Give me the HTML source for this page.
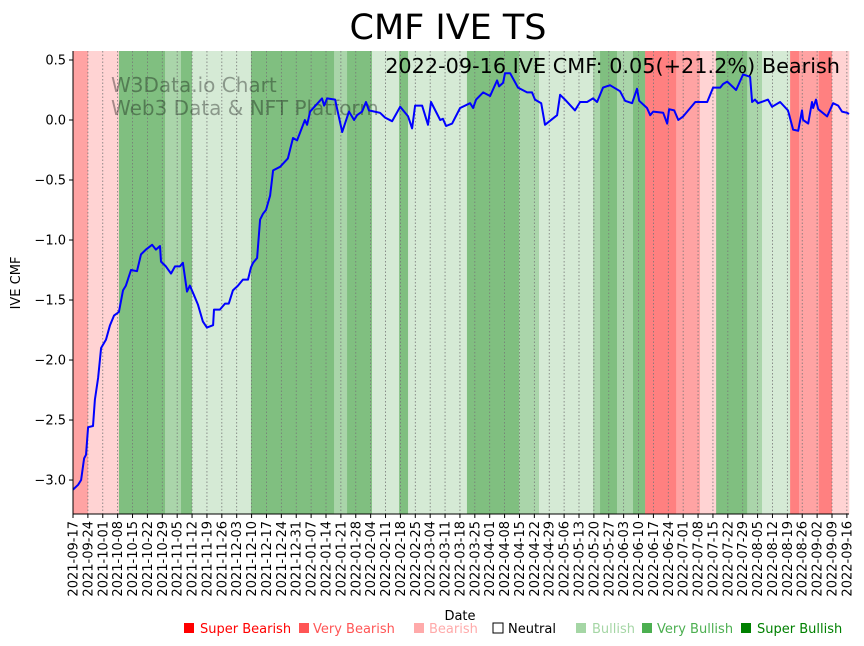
<!DOCTYPE html>
<html><head><meta charset="utf-8"><style>
body{margin:0;background:#fff;font-family:"DejaVu Sans","Liberation Sans",sans-serif}
svg{display:block}
</style></head><body>
<svg id="c" width="864" height="646" xmlns="http://www.w3.org/2000/svg"></svg>
<script>
const bandEnds=[7.1,21.6,43.3,50.8,56,83.7,122.8,128.9,140.6,153.4,157.6,185.3,209.8,219.2,244.6,247.9,255.9,263.4,269.1,283.7,294.9,302.5,317.1,324.1,337.3,341.5,350.9,357,365];
const bandCats=["b","lb","vg","g","vg","lg","vg","g","vg","lg","vg","lg","vg","g","lg","g","vg","g","vg","vb","b","lb","vg","g","lg","vb","b","vb","lb"];
const days=[0,2.4,3.8,5.2,6.1,7.1,9.4,10.3,11.8,13.2,15.5,17.4,19.3,21.6,23.5,24.9,27.3,30.1,32,34.3,37.2,39,40.9,41.4,43.7,46.1,48,50.3,51.7,53.6,55,56.9,58.8,61.1,63,65.9,66.3,69.1,71.5,73.3,75.2,77.6,79.9,82.3,83.7,84.7,86.6,88,89.4,90.8,92.7,94.1,97.4,101.1,103.5,105.4,109.1,110.1,111.5,117.1,118.1,119.5,123.3,126.6,129.8,132.2,133.6,136,137.8,139.2,144.4,146.8,150.1,153.9,157.6,159.5,160.9,164.2,167,168.4,172.7,174,175.5,178.3,182.1,186.8,188.2,189.6,192.9,196.2,199.5,200.4,202.3,203.2,205.6,209.3,213.6,215.9,217.3,220.2,222,227.7,229.1,231.4,236.1,238.5,241.8,244.6,246.5,249.3,252.6,257.3,259.7,263,265.3,266.3,270,271.5,272.9,277.6,279.5,280.4,282.8,284.7,287,292.7,298.3,301.1,304.4,305.8,307.7,311.9,315.2,318.5,319.4,320.8,322.2,326.9,328.8,332.6,336.3,338.7,341.1,342.9,343.4,345.8,347.6,348.1,349.5,350.5,354.7,357.5,359.9,361.7,364.1,365];
const cmf=[-3.08,-3.04,-3.0,-2.82,-2.79,-2.56,-2.55,-2.33,-2.15,-1.9,-1.83,-1.71,-1.63,-1.6,-1.42,-1.38,-1.25,-1.26,-1.12,-1.08,-1.04,-1.08,-1.05,-1.18,-1.22,-1.28,-1.22,-1.22,-1.19,-1.43,-1.38,-1.46,-1.54,-1.68,-1.73,-1.71,-1.58,-1.58,-1.53,-1.53,-1.42,-1.38,-1.33,-1.33,-1.23,-1.19,-1.15,-0.83,-0.78,-0.75,-0.63,-0.42,-0.39,-0.32,-0.15,-0.17,0,-0.04,0.07,0.18,0.12,0.18,0.17,-0.1,0.07,0,0.04,0.07,0.15,0.08,0.06,0.02,-0.01,0.11,0.03,-0.07,0.12,0.12,-0.04,0.15,0,0.01,-0.05,-0.03,0.1,0.14,0.1,0.17,0.23,0.2,0.33,0.28,0.31,0.39,0.39,0.27,0.23,0.23,0.17,0.14,-0.04,0.04,0.21,0.17,0.08,0.15,0.15,0.18,0.15,0.27,0.29,0.24,0.16,0.14,0.26,0.16,0.1,0.04,0.07,0.06,-0.03,0.09,0.08,0,0.03,0.15,0.15,0.27,0.27,0.3,0.32,0.25,0.38,0.36,0.15,0.17,0.14,0.17,0.11,0.15,0.08,-0.08,-0.09,0.08,0,-0.03,0.15,0.1,0.17,0.09,0.03,0.14,0.12,0.07,0.06,0.05];
const yTicks=[0.5,0,-0.5,-1,-1.5,-2,-2.5,-3];
const yTickLabels=["0.5","0.0","−0.5","−1.0","−1.5","−2.0","−2.5","−3.0"];
const xTickLabels=["2021-09-17","2021-09-24","2021-10-01","2021-10-08","2021-10-15","2021-10-22","2021-10-29","2021-11-05","2021-11-12","2021-11-19","2021-11-26","2021-12-03","2021-12-10","2021-12-17","2021-12-24","2021-12-31","2022-01-07","2022-01-14","2022-01-21","2022-01-28","2022-02-04","2022-02-11","2022-02-18","2022-02-25","2022-03-04","2022-03-11","2022-03-18","2022-03-25","2022-04-01","2022-04-08","2022-04-15","2022-04-22","2022-04-29","2022-05-06","2022-05-13","2022-05-20","2022-05-27","2022-06-03","2022-06-10","2022-06-17","2022-06-24","2022-07-01","2022-07-08","2022-07-15","2022-07-22","2022-07-29","2022-08-05","2022-08-12","2022-08-19","2022-08-26","2022-09-02","2022-09-09","2022-09-16"];
const L=73,R=849,T=51,B=514,D0=0,D1=365,V0=-3.283,V1=0.575;
const xs=d=>L+(d-D0)/(D1-D0)*(R-L);
const ys=v=>B-(v-V0)/(V1-V0)*(B-T);
const colors={vb:"#ff8080",b:"#ffa3a3",lb:"#ffd3d3",lg:"#d5ead5",g:"#aad5aa",vg:"#80bf80"};
const svg=document.getElementById('c');const NS="http://www.w3.org/2000/svg";
function mk(t,a,p){const e=document.createElementNS(NS,t);for(const k in a)e.setAttribute(k,a[k]);(p||svg).appendChild(e);return e;}
let prev=0;
bandEnds.forEach((end,i)=>{const r=mk('rect',{x:xs(prev),y:T,width:xs(end)-xs(prev)+0.3,height:B-T,fill:colors[bandCats[i]]});

prev=end;});
xTickLabels.forEach((lab,i)=>{const x=xs(i*7);
const g=mk('line',{x1:x,x2:x,y1:T,y2:B,stroke:"#777",'stroke-width':0.8,'stroke-dasharray':"1.5,2"});


mk('line',{x1:x,x2:x,y1:B,y2:B+4,stroke:"#000"});
const t=mk('text',{x:0,y:0,'font-size':13,'text-anchor':'end',transform:`translate(${x+4.5},${B+7}) rotate(-90)`});t.textContent=lab;

});
yTicks.forEach((v,i)=>{const y=ys(v);mk('line',{x1:L-4,x2:L,y1:y,y2:y,stroke:"#000"});
const t=mk('text',{x:L-7,y:y+4.5,'font-size':13,'text-anchor':'end'});t.textContent=yTickLabels[i];

});
const wm=mk('text',{x:111,y:92,'font-size':20,fill:"#000",'fill-opacity':0.35});wm.innerHTML='<tspan x="111">W3Data.io Chart</tspan><tspan x="111" dy="23">Web3 Data &amp; NFT Platform</tspan>';


const pts=days.map((d,i)=>xs(d).toFixed(1)+','+ys(cmf[i]).toFixed(1)).join(' ');
const pl=mk('polyline',{points:pts,fill:'none',stroke:'#0000ff','stroke-width':2,'stroke-linejoin':'round'});


mk('line',{x1:L,x2:L,y1:T,y2:B,stroke:'#000','stroke-width':1});
mk('line',{x1:L,x2:R,y1:B,y2:B,stroke:'#000','stroke-width':1});
</script>
<svg style="position:absolute;left:0;top:0" width="864" height="646" xmlns="http://www.w3.org/2000/svg">
<text x="448" y="39" font-size="35" text-anchor="middle">CMF IVE TS</text>
<text x="840" y="73" font-size="20.8" text-anchor="end">2022-09-16 IVE CMF: 0.05(+21.2%) Bearish</text>
<text x="0" y="0" font-size="13" text-anchor="middle" transform="translate(20,283) rotate(-90)">IVE CMF</text>
<text x="460" y="620" font-size="13" text-anchor="middle">Date</text>
<g font-size="13">
<rect x="184" y="623" width="10" height="10" fill="#ff0000"/><text x="200" y="633" fill="#ff0000">Super Bearish</text>
<rect x="299" y="623" width="10" height="10" fill="#ff5555"/><text x="313" y="633" fill="#ff5555">Very Bearish</text>
<rect x="414" y="623" width="10" height="10" fill="#ffaaaa"/><text x="429" y="633" fill="#ffaaaa">Bearish</text>
<rect x="493" y="623" width="10" height="10" fill="#fff" stroke="#000"/><text x="508" y="633" fill="#000">Neutral</text>
<rect x="576" y="623" width="10" height="10" fill="#a5d6a5"/><text x="592" y="633" fill="#a5d6a5">Bullish</text>
<rect x="642" y="623" width="10" height="10" fill="#4caf50"/><text x="657" y="633" fill="#4caf50">Very Bullish</text>
<rect x="741" y="623" width="10" height="10" fill="#008000"/><text x="757" y="633" fill="#008000">Super Bullish</text>
</g>
</svg>
</body></html>
